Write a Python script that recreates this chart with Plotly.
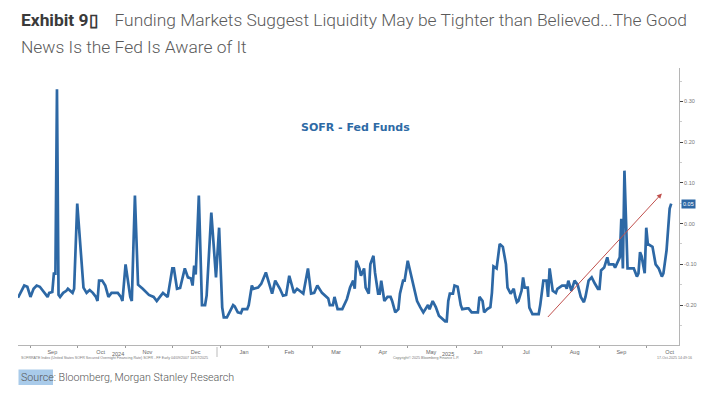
import plotly.graph_objects as go

# ---------------- data ----------------
obs_dates = [
    # Aug 2024
    "2024-08-24", "2024-08-26", "2024-08-28", "2024-08-30",
    # Sep 2024
    "2024-09-01", "2024-09-03", "2024-09-05", "2024-09-07", "2024-09-08", "2024-09-10",
    "2024-09-12", "2024-09-13", "2024-09-15", "2024-09-16", "2024-09-17", "2024-09-18",
    "2024-09-19", "2024-09-20", "2024-09-22", "2024-09-24", "2024-09-25", "2024-09-28",
    "2024-09-29",
    # Oct 2024
    "2024-10-01", "2024-10-05", "2024-10-07", "2024-10-09", "2024-10-11", "2024-10-13",
    "2024-10-14", "2024-10-15", "2024-10-17", "2024-10-19", "2024-10-21", "2024-10-23",
    "2024-10-27", "2024-10-29", "2024-10-30",
    # Nov 2024
    "2024-11-01", "2024-11-04", "2024-11-05", "2024-11-07", "2024-11-09", "2024-11-12",
    "2024-11-16", "2024-11-19", "2024-11-21", "2024-11-23", "2024-11-25", "2024-11-28",
    # Dec 2024
    "2024-12-01", "2024-12-02", "2024-12-04", "2024-12-06", "2024-12-09", "2024-12-11",
    "2024-12-13", "2024-12-14", "2024-12-15", "2024-12-16", "2024-12-18", "2024-12-20",
    "2024-12-22", "2024-12-23", "2024-12-26", "2024-12-29", "2024-12-31",
    # Jan 2025
    "2025-01-02", "2025-01-03", "2025-01-05", "2025-01-07", "2025-01-09", "2025-01-10",
    "2025-01-12", "2025-01-14", "2025-01-15", "2025-01-18", "2025-01-19", "2025-01-21",
    "2025-01-22", "2025-01-25", "2025-01-27", "2025-01-30",
    # Feb 2025
    "2025-02-01", "2025-02-03", "2025-02-05", "2025-02-07", "2025-02-08", "2025-02-10",
    "2025-02-12", "2025-02-14", "2025-02-17", "2025-02-19", "2025-02-23", "2025-02-26",
    "2025-02-28",
    # Mar 2025
    "2025-03-02", "2025-03-04", "2025-03-07", "2025-03-11", "2025-03-12", "2025-03-14",
    "2025-03-15", "2025-03-17", "2025-03-20", "2025-03-21", "2025-03-23", "2025-03-25",
    "2025-03-27", "2025-03-28", "2025-03-29", "2025-03-31",
    # Apr 2025
    "2025-04-01", "2025-04-03", "2025-04-04", "2025-04-06", "2025-04-07", "2025-04-09",
    "2025-04-10", "2025-04-12", "2025-04-13", "2025-04-14", "2025-04-16", "2025-04-18",
    "2025-04-20", "2025-04-21", "2025-04-23", "2025-04-25", "2025-04-26", "2025-04-28",
    "2025-04-29",
    # May 2025
    "2025-05-01", "2025-05-02", "2025-05-04", "2025-05-06", "2025-05-07", "2025-05-09",
    "2025-05-11", "2025-05-14", "2025-05-15", "2025-05-17", "2025-05-19", "2025-05-21",
    "2025-05-24", "2025-05-25", "2025-05-26", "2025-05-27", "2025-05-28", "2025-05-30",
    "2025-05-31",
    # Jun 2025
    "2025-06-02", "2025-06-04", "2025-06-05", "2025-06-08", "2025-06-09", "2025-06-11",
    "2025-06-14", "2025-06-15", "2025-06-16", "2025-06-18", "2025-06-19", "2025-06-21",
    "2025-06-23", "2025-06-24", "2025-06-25", "2025-06-27", "2025-06-29",
    # Jul 2025
    "2025-07-01", "2025-07-03", "2025-07-04", "2025-07-06", "2025-07-08", "2025-07-09",
    "2025-07-10", "2025-07-11", "2025-07-13", "2025-07-14", "2025-07-15", "2025-07-17",
    "2025-07-18", "2025-07-20", "2025-07-22", "2025-07-24", "2025-07-25", "2025-07-27",
    "2025-07-29", "2025-07-30", "2025-07-31",
    # Aug 2025
    "2025-08-02", "2025-08-04", "2025-08-05", "2025-08-08", "2025-08-10", "2025-08-11",
    "2025-08-12", "2025-08-14", "2025-08-16", "2025-08-18", "2025-08-20", "2025-08-22",
    "2025-08-23", "2025-08-25", "2025-08-27", "2025-08-29", "2025-08-31",
    # Sep 2025
    "2025-09-01", "2025-09-02", "2025-09-04", "2025-09-06", "2025-09-07", "2025-09-10",
    "2025-09-11", "2025-09-13", "2025-09-14", "2025-09-15", "2025-09-16", "2025-09-17",
    "2025-09-19", "2025-09-21", "2025-09-23", "2025-09-25", "2025-09-26", "2025-09-27",
    "2025-09-28", "2025-09-30",
    # Oct 2025
    "2025-10-01", "2025-10-02", "2025-10-05", "2025-10-07", "2025-10-09", "2025-10-11",
    "2025-10-12", "2025-10-14", "2025-10-16", "2025-10-17",
]

sofr_minus_ff = [
    # Aug 2024
    -0.182, -0.165, -0.152, -0.155,
    # Sep 2024
    -0.180, -0.160, -0.152, -0.155, -0.160, -0.170,
    -0.180, -0.170, -0.168, -0.123, -0.123, 0.330,
    -0.175, -0.180, -0.170, -0.165, -0.160, -0.170,
    -0.160,
    # Oct 2024
    0.049, -0.157, -0.170, -0.163, -0.170, -0.180,
    -0.190, -0.140, -0.140, -0.152, -0.180, -0.170,
    -0.170, -0.180, -0.190,
    # Nov 2024
    -0.100, -0.180, -0.190, 0.069, -0.150, -0.160,
    -0.175, -0.180, -0.190, -0.180, -0.170, -0.180,
    # Dec 2024
    -0.110, -0.110, -0.160, -0.158, -0.110, -0.132,
    -0.135, -0.152, -0.103, -0.125, 0.069, -0.200,
    -0.200, -0.177, 0.027, -0.132, -0.010,
    # Jan 2025
    -0.206, -0.230, -0.230, -0.214, -0.200, -0.203,
    -0.218, -0.220, -0.210, -0.210, -0.200, -0.152,
    -0.160, -0.157, -0.148, -0.120,
    # Feb 2025
    -0.148, -0.172, -0.140, -0.152, -0.160, -0.177,
    -0.175, -0.128, -0.170, -0.160, -0.172, -0.110,
    -0.172,
    # Mar 2025
    -0.170, -0.152, -0.170, -0.184, -0.200, -0.200,
    -0.180, -0.210, -0.210, -0.200, -0.185, -0.157,
    -0.140, -0.160, -0.091, -0.110,
    # Apr 2025
    -0.128, -0.110, -0.157, -0.172, -0.100, -0.079,
    -0.120, -0.172, -0.172, -0.140, -0.190, -0.180,
    -0.180, -0.190, -0.218, -0.210, -0.172, -0.140,
    -0.140,
    # May 2025
    -0.091, -0.108, -0.145, -0.177, -0.190, -0.205,
    -0.218, -0.200, -0.210, -0.190, -0.205, -0.226,
    -0.238, -0.240, -0.240, -0.190, -0.172, -0.172,
    -0.152,
    # Jun 2025
    -0.155, -0.200, -0.210, -0.208, -0.208, -0.218,
    -0.218, -0.218, -0.180, -0.190, -0.218, -0.210,
    -0.205, -0.170, -0.105, -0.110, -0.050,
    # Jul 2025
    -0.057, -0.100, -0.157, -0.172, -0.160, -0.180,
    -0.193, -0.190, -0.165, -0.132, -0.157, -0.157,
    -0.206, -0.222, -0.222, -0.222, -0.200, -0.140,
    -0.140, -0.180, -0.110,
    # Aug 2025
    -0.165, -0.170, -0.160, -0.152, -0.152, -0.160,
    -0.140, -0.165, -0.140, -0.150, -0.180, -0.193,
    -0.180, -0.140, -0.132, -0.147, -0.160,
    # Sep 2025
    -0.160, -0.115, -0.108, -0.083, -0.100, -0.100,
    -0.108, -0.090, -0.083, 0.012, -0.110, 0.130,
    -0.110, -0.110, -0.110, -0.130, -0.122, -0.070,
    -0.080, -0.122,
    # Oct 2025
    -0.010, -0.050, -0.057, -0.100, -0.110, -0.130,
    -0.122, -0.066, 0.037, 0.049,
]

month_label_dates = [
    "2024-09-15", "2024-10-16", "2024-11-15", "2024-12-16", "2025-01-16",
    "2025-02-14", "2025-03-16", "2025-04-15", "2025-05-16", "2025-06-15",
    "2025-07-16", "2025-08-16", "2025-09-15", "2025-10-16",
]
month_labels = ["Sep", "Oct", "Nov", "Dec", "Jan", "Feb", "Mar", "Apr",
                "May", "Jun", "Jul", "Aug", "Sep", "Oct"]
month_starts = [
    "2024-09-01", "2024-10-01", "2024-11-01", "2024-12-01", "2025-01-01",
    "2025-02-01", "2025-03-01", "2025-04-01", "2025-05-01", "2025-06-01",
    "2025-07-01", "2025-08-01", "2025-09-01", "2025-10-01",
]
year_label_dates = ["2024-10-27", "2025-05-27"]
year_labels = ["2024", "2025"]

y_tick_vals = [-0.2, -0.1, 0.0, 0.1, 0.2, 0.3]
y_tick_text = ["-0.20", "-0.10", "0.00", "0.10", "0.20", "0.30"]

last_value = sofr_minus_ff[-1]
last_label = "0.05"

trend_start = ("2025-07-29", -0.233)
trend_end = ("2025-10-11", 0.074)

# ---------------- figure ----------------
W, H = 718, 399
LINE_BLUE = "#2d68a5"


def px(x):
    return x / W


def py(y):
    return 1 - y / H


fig = go.Figure()
fig.add_trace(go.Scatter(
    x=obs_dates, y=sofr_minus_ff, mode="lines",
    line=dict(color=LINE_BLUE, width=2.7),
    hoverinfo="skip", showlegend=False,
))

fig.update_layout(
    width=W, height=H,
    margin=dict(l=0, r=0, t=0, b=0),
    paper_bgcolor="white", plot_bgcolor="white",
    showlegend=False,
    xaxis=dict(
        domain=[px(18), px(679)],
        range=["2024-08-24", "2025-10-22"],
        type="date",
        tickmode="array", tickvals=month_label_dates, ticktext=month_labels,
        ticks="", showgrid=False, zeroline=False,
        showline=True, linecolor="#b5b5b5", linewidth=1,
        tickfont=dict(family="Liberation Sans", size=5.5, color="#666666"),
        ticklabelstandoff=1,
        minor=dict(tickmode="array", tickvals=month_starts, ticks="outside",
                   ticklen=2, tickcolor="#999999", showgrid=False),
    ),
    yaxis=dict(
        domain=[py(345), py(68)],
        range=[-0.298, 0.382],
        side="right",
        tickmode="array", tickvals=y_tick_vals, ticktext=y_tick_text,
        ticks="outside", ticklen=3, tickcolor="#444444", tickwidth=1,
        showgrid=False, zeroline=False,
        showline=True, linecolor="#b5b5b5", linewidth=1,
        tickfont=dict(family="Liberation Sans", size=5.5, color="#777777"),
        minor=dict(tick0=0.05, dtick=0.1, ticks="outside", ticklen=2,
                   tickcolor="#cccccc", showgrid=False),
    ),
)

annotations = []

# Title
annotations.append(dict(
    xref="paper", yref="paper", x=px(19), y=py(20), xanchor="left", yanchor="middle",
    showarrow=False, align="left",
    text=("<b><span style='color:#3a3a3a'>Exhibit 9\u25af</span></b>"
          "\u00a0\u00a0\u00a0 Funding Markets Suggest Liquidity May be Tighter than "
          "Believed...The Good"),
    font=dict(family="Roboto", size=17.4, color="#5a5a5a", weight=300),
))
annotations.append(dict(
    xref="paper", yref="paper", x=px(19), y=py(47), xanchor="left", yanchor="middle",
    showarrow=False, align="left",
    text="News Is the Fed Is Aware of It",
    font=dict(family="Roboto", size=17.4, color="#5a5a5a", weight=300),
))

# In-chart title
annotations.append(dict(
    xref="paper", yref="paper", x=px(355), y=py(127), xanchor="center", yanchor="middle",
    showarrow=False, text="<b>SOFR - Fed Funds</b>",
    font=dict(family="DejaVu Sans", size=11, color="#2e6aa5"),
))

# Last value box
annotations.append(dict(
    xref="paper", yref="y", x=px(681), y=last_value, xanchor="left", yanchor="middle",
    showarrow=False, text=last_label, bgcolor=LINE_BLUE, borderpad=1,
    font=dict(family="Liberation Sans", size=5.5, color="white"),
))

# Year labels
for d, t in zip(year_label_dates, year_labels):
    annotations.append(dict(
        xref="x", yref="paper", x=d, y=py(353.5), xanchor="center", yanchor="middle",
        showarrow=False, text=t,
        font=dict(family="Liberation Sans", size=5.5, color="#666666"),
    ))

# Footnotes
annotations.append(dict(
    xref="paper", yref="paper", x=px(19), y=py(357.5), xanchor="left", yanchor="middle",
    showarrow=False,
    text="SOFRRATE Index (United States SOFR Secured Overnight Financing Rate) SOFR - FF Early 04/09/2007 10/17/2025",
    font=dict(family="Liberation Sans", size=3.6, color="#777777"),
))
annotations.append(dict(
    xref="paper", yref="paper", x=px(426), y=py(357.5), xanchor="center", yanchor="middle",
    showarrow=False, text="Copyright\u00a9 2025 Bloomberg Finance L.P.",
    font=dict(family="Liberation Sans", size=3.6, color="#777777"),
))
annotations.append(dict(
    xref="paper", yref="paper", x=px(694), y=py(357.5), xanchor="right", yanchor="middle",
    showarrow=False, text="17-Oct-2025 14:49:16",
    font=dict(family="Liberation Sans", size=3.6, color="#777777"),
))

# Source
annotations.append(dict(
    xref="paper", yref="paper", x=px(19), y=py(377), xanchor="left", yanchor="middle",
    showarrow=False, text="Source: Bloomberg, Morgan Stanley Research",
    font=dict(family="Roboto", size=10.7, color="#555555", weight=300),
))

# Trend arrow
annotations.append(dict(
    xref="x", yref="y", x=trend_end[0], y=trend_end[1],
    axref="x", ayref="y", ax=trend_start[0], ay=trend_start[1],
    showarrow=True, arrowhead=2, arrowsize=1, arrowwidth=1,
    arrowcolor="#c0504d", text="",
))

fig.update_layout(annotations=annotations)

# Shapes: source highlight, year separator
fig.update_layout(shapes=[
    dict(type="rect", xref="paper", yref="paper",
         x0=px(18.5), x1=px(53), y0=py(385), y1=py(369.5),
         fillcolor="#a9cbea", line=dict(width=0), layer="below"),
    dict(type="line", xref="paper", yref="paper",
         x0=px(217), x1=px(217), y0=py(347), y1=py(357),
         line=dict(color="#bbbbbb", width=1)),
])

fig.write_html("out.html", config={"displayModeBar": False, "staticPlot": True})

# remove the browser's default 8px body margin so the figure sits at the page origin
with open("out.html", "r", encoding="utf-8") as f:
    html = f.read()
html = html.replace("<head>", "<head><style>html,body{margin:0;padding:0;}</style>", 1)
with open("out.html", "w", encoding="utf-8") as f:
    f.write(html)
